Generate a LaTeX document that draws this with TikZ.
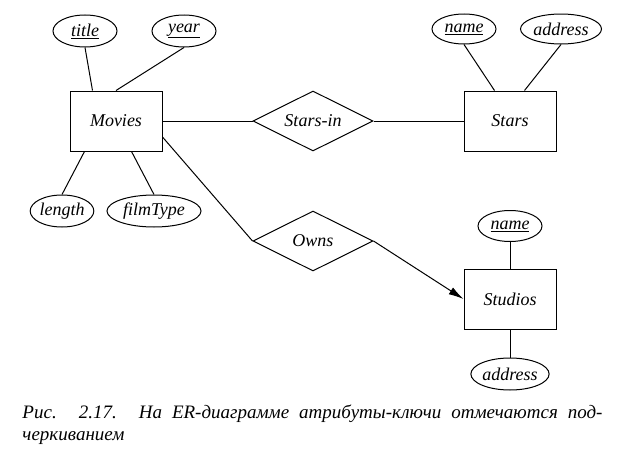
\documentclass[tikz,border=0pt]{standalone}
\usepackage{fontspec}
\setmainfont{Liberation Serif}
\usetikzlibrary{shapes.geometric,arrows.meta,positioning}

\tikzset{
  entity/.style={draw, rectangle, minimum width=92pt, minimum height=60pt, inner sep=0pt},
  relation/.style={draw, diamond, aspect=2, minimum width=120pt, minimum height=60pt, inner sep=0pt},
  attr/.style={draw, ellipse, minimum height=32pt, inner sep=0pt},
  caption/.style={font=\fontsize{19}{22}\selectfont\itshape, inner sep=0pt, anchor=north west, align=left}
}

\begin{document}
\begin{tikzpicture}[line width=1pt,
    every node/.style={font=\fontsize{18}{21}\selectfont\itshape}]
    \useasboundingbox (0,0) rectangle (619pt,-455pt);

    % ENTITIES
    \node[entity] (MOVIES) at (116pt,-121pt) {Movies};
    \node[relation,
      node distance=197pt,
    right of=MOVIES] (STARS_IN) {Stars-in};
    \node[entity,
      node distance=197pt,
    right of=STARS_IN] (STARS) {Stars};
    \node[relation,
      node distance=120pt,
    below of=STARS_IN] (OWNS) {Owns};
    \node[entity,
      node distance=178pt,
    below of=STARS] (STUDIOS) {Studios};

    % ATTRIBUTES OF MOVIES
    \node[attr, minimum width=64pt,
      node distance=90pt,
      above of=MOVIES,
    xshift=-31pt] (TITLE) {\underline{title}};
    \node[attr, minimum width=64pt,
      node distance=90pt,
      above of=MOVIES,
    xshift=68pt] (YEAR) {\underline{year}};
    \node[attr, minimum width=63pt,
      node distance=90pt,
      below of=MOVIES,
    xshift=-54pt] (LENGTH) {length};
    \node[attr, minimum width=94pt,
      node distance=90pt,
      below of=MOVIES,
    xshift=38pt] (FILMTYPE) {filmType};

    % ATTRIBUTES OF STARS
    \node[attr, minimum width=64pt, minimum height=30pt,
      node distance=92pt,
      above of=STARS,
    xshift=-46pt] (STARS_NAME) {\underline{name}};
    \node[attr, minimum width=81pt, minimum height=30pt,
      node distance=92pt,
      above of=STARS,
    xshift=51pt] (STARS_ADDRESS) {address};

    % ATTRIBUTES OF STUDIOS
    \node[attr, minimum width=64pt, minimum height=31pt,
      node distance=73pt,
    above of=STUDIOS] (STUDIOS_NAME) {\underline{name}};
    \node[attr, minimum width=78pt,
      node distance=75pt,
    below of=STUDIOS] (STUDIOS_ADDRESS) {address};

    % CAPTION
    \node[caption] (CAPTION) at (22pt,-404pt)
    {\makebox[580pt][s]{Рис. 2.17. На ER-диаграмме атрибуты-ключи отмечаются под-}\\
      черкиванием};

    % LINES
    \draw (TITLE.south) -- ([xshift=23pt]MOVIES.north west);
    \draw (YEAR.south) -- (MOVIES.north);
    \draw (LENGTH.north) -- ([xshift=15pt]MOVIES.south west);
    \draw (FILMTYPE.north) -- ([xshift=62pt]MOVIES.south west);
    \draw (STARS_NAME.south) -- ([xshift=31pt]STARS.north west);
    \draw (STARS_ADDRESS.south) -- ([xshift=61pt]STARS.north west);
    \draw (STUDIOS_NAME.south) -- (STUDIOS.north);
    \draw (STUDIOS_ADDRESS.north) -- (STUDIOS.south);

    \draw (MOVIES.east) -- (STARS_IN.west);
    \draw (STARS_IN.east) -- (STARS.west);
    \draw ([yshift=-16pt]MOVIES.east) -- (OWNS.west);
    \draw[-{Latex[length=15pt,width=8pt]}] (OWNS.east) -- (STUDIOS.west);
  \end{tikzpicture}
\end{document}
